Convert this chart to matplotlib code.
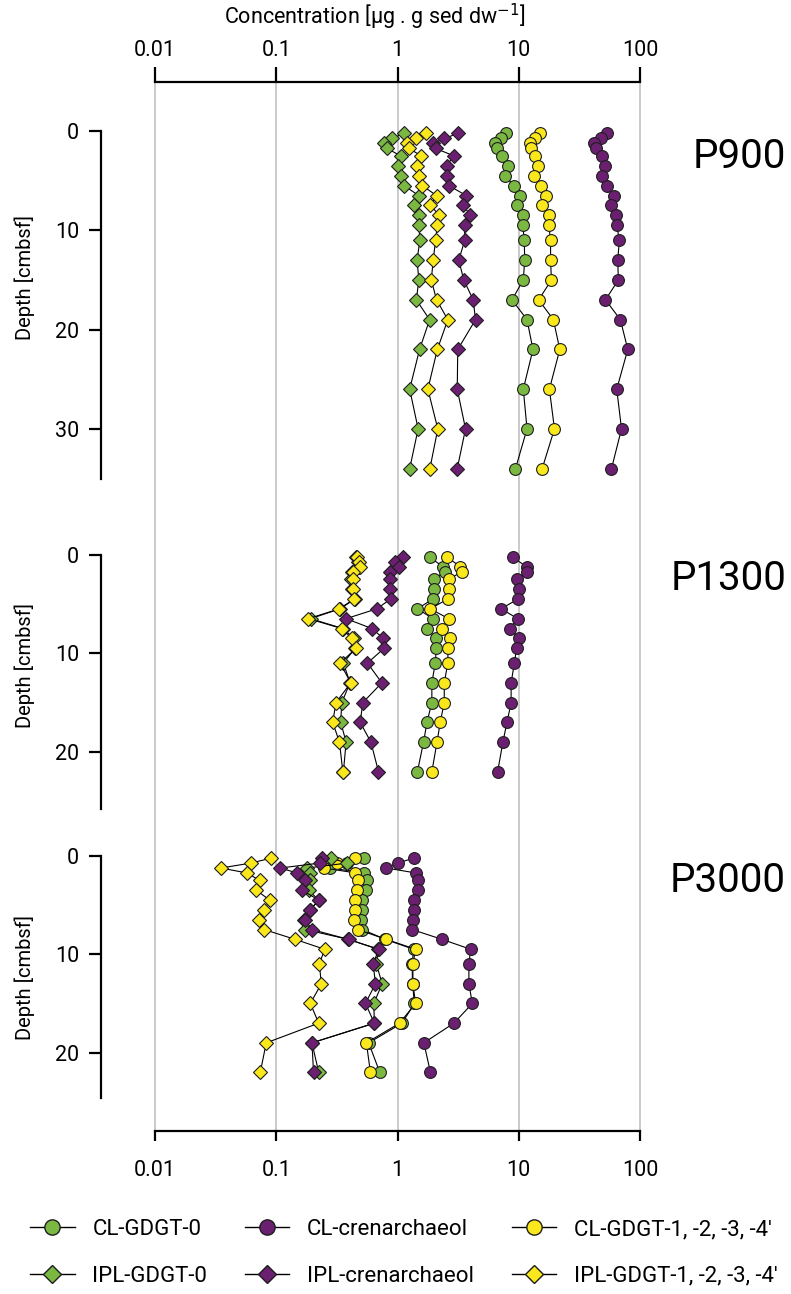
import matplotlib
matplotlib.use('Agg')
import matplotlib.pyplot as plt
from matplotlib.lines import Line2D
from matplotlib.ticker import NullLocator

plt.rcParams['font.family'] = ['Roboto', 'DejaVu Sans']

green = '#7bb842'
purple = '#6b1f70'
yellow = '#fbe81c'
edge = '#1e1e1e'

# ---- P900 ----
d900 = [0.25, 0.75, 1.25, 1.75, 2.5, 3.5, 4.5, 5.5, 6.5, 7.5, 8.5, 9.5, 11, 13, 15, 17, 19, 22, 26, 30, 34]
cl0_900 = [7.9, 7.2, 6.4, 6.6, 7.3, 8.2, 7.7, 9.1, 10.3, 9.7, 10.8, 10.8, 11.1, 11.2, 10.9, 8.8, 11.7, 13.1, 10.9, 11.7, 9.4]
clcren_900 = [53.6, 47.8, 41.6, 43.0, 48.8, 51.9, 48.8, 53.6, 61.4, 57.7, 63.4, 64.3, 67.6, 65.5, 66.3, 51.9, 68.9, 79.3, 64.3, 70.4, 58.2]
cl14_900 = [14.9, 13.7, 12.3, 12.7, 13.6, 14.4, 13.3, 15.3, 16.9, 15.6, 17.9, 17.7, 18.3, 18.3, 18.6, 14.6, 19.3, 21.8, 17.9, 19.7, 15.6]
ipl0_900 = [1.13, 0.90, 0.78, 0.82, 1.06, 1.00, 1.07, 1.13, 1.50, 1.36, 1.50, 1.50, 1.53, 1.45, 1.50, 1.43, 1.84, 1.52, 1.26, 1.48, 1.26]
iplcren_900 = [3.14, 2.44, 1.97, 2.06, 2.91, 2.54, 2.54, 2.65, 3.69, 3.48, 4.00, 3.57, 3.59, 3.20, 3.52, 4.21, 4.40, 3.14, 3.11, 3.64, 3.11]
ipl14_900 = [1.73, 1.41, 1.19, 1.24, 1.57, 1.45, 1.50, 1.60, 2.10, 1.87, 2.22, 2.13, 2.06, 1.97, 1.90, 2.10, 2.60, 2.13, 1.78, 2.15, 1.85]

# ---- P1300 ----
d1300_cl = [0.25, 1.25, 1.75, 2.5, 3.5, 4.5, 5.5, 6.5, 7.5, 8.5, 9.5, 11, 13, 15, 17, 19, 22]
d1300_ipl = [0.25, 0.75, 1.25, 1.75, 2.5, 3.5, 4.5, 5.5, 6.5, 7.5, 8.5, 9.5, 11, 13, 15, 17, 19, 22]
cl0_1300 = [1.84, 2.37, 2.48, 1.99, 1.99, 1.96, 1.46, 1.96, 1.75, 2.09, 2.09, 2.05, 1.92, 1.92, 1.75, 1.64, 1.46]
clcren_1300 = [8.9, 11.6, 11.6, 9.6, 10.0, 9.9, 7.15, 9.8, 8.4, 10.0, 9.6, 9.2, 8.65, 8.65, 8.0, 7.4, 6.7]
cl14_1300 = [2.56, 3.30, 3.40, 2.64, 2.64, 2.61, 1.86, 2.64, 2.33, 2.73, 2.61, 2.60, 2.43, 2.43, 2.25, 2.12, 1.92]
ipl0_1300 = [0.456, 0.47, 0.48, 0.42, 0.412, 0.42, 0.447, 0.336, 0.192, 0.354, 0.439, 0.447, 0.358, 0.406, 0.347, 0.34, 0.377, 0.358]
iplcren_1300 = [1.11, 0.957, 1.02, 0.86, 0.87, 0.86, 0.88, 0.676, 0.377, 0.614, 0.766, 0.776, 0.565, 0.743, 0.518, 0.492, 0.603, 0.697]
ipl14_1300 = [0.462, 0.482, 0.492, 0.433, 0.433, 0.428, 0.439, 0.332, 0.184, 0.347, 0.42, 0.456, 0.336, 0.412, 0.311, 0.292, 0.332, 0.354]

# ---- P3000 ----
d3000 = [0.25, 0.75, 1.25, 1.75, 2.5, 3.5, 4.5, 5.5, 6.5, 7.5, 8.5, 9.5, 11, 13, 15, 17, 19, 22]
cl0_3000 = [0.526, 0.386, 0.279, 0.533, 0.565, 0.555, 0.511, 0.511, 0.501, 0.514, 0.796, 1.36, 1.32, 1.33, 1.38, 1.09, 0.579, 0.714]
clcren_3000 = [1.36, 1.0, 0.81, 1.41, 1.47, 1.47, 1.36, 1.36, 1.34, 1.32, 2.34, 4.01, 3.88, 3.88, 4.14, 2.92, 1.65, 1.87]
cl14_3000 = [0.45, 0.319, 0.249, 0.45, 0.47, 0.461, 0.45, 0.446, 0.435, 0.47, 0.811, 1.41, 1.34, 1.34, 1.41, 1.04, 0.554, 0.598]
ipl0_3000 = [0.283, 0.384, 0.18, 0.191, 0.191, 0.185, 0.224, 0.191, 0.168, 0.174, 0.394, 0.696, 0.67, 0.747, 0.637, 0.645, 0.197, 0.224]
iplcren_3000 = [0.239, 0.228, 0.108, 0.148, 0.174, 0.163, 0.224, 0.191, 0.174, 0.197, 0.396, 0.70, 0.63, 0.658, 0.544, 0.645, 0.197, 0.203]
ipl14_3000 = [0.0904, 0.0618, 0.0349, 0.0573, 0.0728, 0.0684, 0.0881, 0.080, 0.0714, 0.0796, 0.1435, 0.2508, 0.2266, 0.2355, 0.191, 0.224, 0.0827, 0.0738]

decades = [0.01, 0.1, 1, 10, 100]
decade_labels = ['0.01', '0.1', '1', '10', '100']

W, H = 791, 1294
fig = plt.figure(figsize=(W / 100, H / 100), dpi=100)


def rect(x0, x1, y0, y1):
    return [x0 / W, 1 - y1 / H, (x1 - x0) / W, (y1 - y0) / H]


# background axis with the concentration scale and grid
bg = fig.add_axes(rect(155, 640, 82, 1131))
bg.set_xscale('log')
bg.set_xlim(0.01, 100)
bg.set_ylim(0, 1)
bg.set_yticks([])
for s in ['left', 'right', 'top']:
    bg.spines[s].set_visible(False)
bg.spines['bottom'].set_linewidth(1.6)
bg.set_xticks(decades, decade_labels)
bg.xaxis.set_minor_locator(NullLocator())
bg.tick_params(axis='x', length=7, width=1.6, pad=14, labelsize=15.5)
for d in decades:
    bg.axvline(d, color='#c6c6c6', lw=1.3, clip_on=False, zorder=0)

top = bg.twiny()
top.set_xscale('log')
top.set_xlim(0.01, 100)
for s in ['left', 'right', 'bottom']:
    top.spines[s].set_visible(False)
top.spines['top'].set_linewidth(1.6)
top.set_xticks(decades, decade_labels)
top.xaxis.set_minor_locator(NullLocator())
top.tick_params(axis='x', length=11, width=1.6, pad=4, labelsize=15.5)

fig.text(375 / W, 1 - 17 / H, 'Concentration [µg . g sed dw$^{-1}$]', ha='center', va='center', fontsize=15.5)

# name, depth-0 pixel, px per cm, axis end depth, ticks, name y, depth-label y, series
panels = [
    ('P900', 131, 9.93, 35.0, [0, 10, 20, 30], 157, 278,
     [(d900, cl0_900, 'o', green), (d900, clcren_900, 'o', purple), (d900, cl14_900, 'o', yellow),
      (d900, ipl0_900, 'D', green), (d900, iplcren_900, 'D', purple), (d900, ipl14_900, 'D', yellow)]),
    ('P1300', 554.5, 9.87, 25.8, [0, 10, 20], 578, 666,
     [(d1300_cl, cl0_1300, 'o', green), (d1300_cl, clcren_1300, 'o', purple), (d1300_cl, cl14_1300, 'o', yellow),
      (d1300_ipl, ipl0_1300, 'D', green), (d1300_ipl, iplcren_1300, 'D', purple), (d1300_ipl, ipl14_1300, 'D', yellow)]),
    ('P3000', 855.7, 9.85, 24.6, [0, 10, 20], 880, 977,
     [(d3000, cl0_3000, 'o', green), (d3000, clcren_3000, 'o', purple), (d3000, cl14_3000, 'o', yellow),
      (d3000, ipl0_3000, 'D', green), (d3000, iplcren_3000, 'D', purple), (d3000, ipl14_3000, 'D', yellow)]),
]

for name, y0, ppc, dend, yt, name_y, lab_y, series in panels:
    ytop = y0 - 2 * ppc
    ybot = y0 + dend * ppc
    ax = fig.add_axes(rect(155, 640, ytop, ybot))
    ax.patch.set_visible(False)
    ax.set_xscale('log')
    ax.set_xlim(0.01, 100)
    ax.set_ylim(dend, -2)
    for s in ['right', 'top', 'bottom']:
        ax.spines[s].set_visible(False)
    ax.spines['left'].set_position(('outward', 54 * 0.72))
    ax.spines['left'].set_bounds(0, dend)
    ax.spines['left'].set_linewidth(1.6)
    ax.set_yticks(yt)
    ax.tick_params(axis='y', length=8.6, width=1.6, pad=7, labelsize=15.5)
    ax.tick_params(axis='x', which='both', bottom=False, labelbottom=False)
    for dep, vals, mk, col in series:
        ms = 8.5 if mk == 'o' else 7
        ax.plot(vals, dep, color='black', lw=0.8, marker=mk, ms=ms, mfc=col, mec=edge, mew=0.8,
                clip_on=False)
    fig.text(25 / W, 1 - lab_y / H, 'Depth [cmbsf]', rotation=90, ha='center', va='center', fontsize=14.5)
    fig.text(786 / W, 1 - name_y / H, name, ha='right', va='center', fontsize=29)

handles = [
    Line2D([], [], color='black', lw=1, marker='o', ms=11, mfc=green, mec=edge),
    Line2D([], [], color='black', lw=1, marker='D', ms=9, mfc=green, mec=edge),
    Line2D([], [], color='black', lw=1, marker='o', ms=11, mfc=purple, mec=edge),
    Line2D([], [], color='black', lw=1, marker='D', ms=9, mfc=purple, mec=edge),
    Line2D([], [], color='black', lw=1, marker='o', ms=11, mfc=yellow, mec=edge),
    Line2D([], [], color='black', lw=1, marker='D', ms=9, mfc=yellow, mec=edge),
]
labels = ['CL-GDGT-0', 'IPL-GDGT-0', 'CL-crenarchaeol', 'IPL-crenarchaeol',
          'CL-GDGT-1, -2, -3, -4\u2032', 'IPL-GDGT-1, -2, -3, -4\u2032']
fig.legend(handles, labels, ncol=3, loc='center', bbox_to_anchor=(404 / W, 1 - 1253 / H),
           frameon=False, fontsize=16, handlelength=2.0, handletextpad=0.8,
           columnspacing=1.7, labelspacing=1.15)

fig.savefig('out.png', dpi=100)
